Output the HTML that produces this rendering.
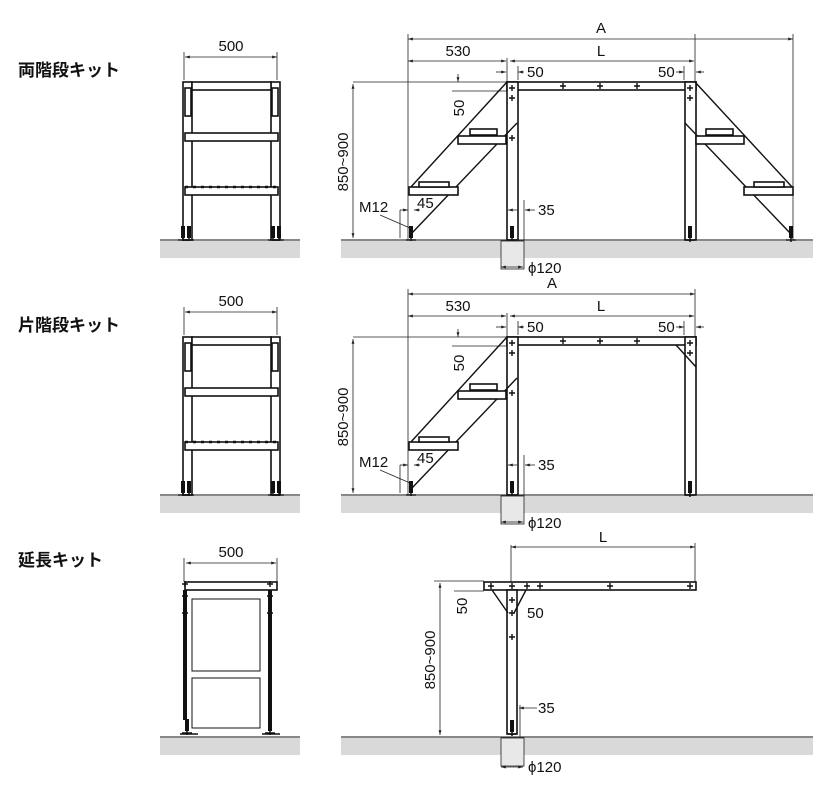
<!DOCTYPE html>
<html><head><meta charset="utf-8"><style>
body{margin:0;background:#fff}
svg{display:block}
text{font-family:"Liberation Sans","Noto Sans CJK JP",sans-serif;fill:#111}
.t{font-size:15px}
.h{font-size:17px;font-weight:bold}
.d{stroke:#222;stroke-width:0.8;fill:none}
.k{stroke:#111;stroke-width:1.6;fill:#fff}
.kl{stroke:#111;stroke-width:1.4;fill:none}
.g{fill:#d9d9d9}
</style></head><body>
<svg width="830" height="800" viewBox="0 0 830 800">
<defs>
<marker id="a" viewBox="0 0 10 10" refX="10" refY="5" markerWidth="6" markerHeight="6" orient="auto-start-reverse"><path d="M0,2L10,5L0,8z" fill="#222"/></marker>
<g id="foot"><rect x="-2" y="-14" width="4" height="12" fill="#111"/><path d="M-5,0h10M0,-2v4" stroke="#111" stroke-width="1.5"/></g>
<path id="x" d="M-3,0h6M0,-3v6" stroke="#111" stroke-width="1.4"/>
<g id="side">
<line class="d" x1="185" y1="57" x2="277" y2="57" marker-start="url(#a)" marker-end="url(#a)"/>
<line class="d" x1="184" y1="52" x2="184" y2="80"/><line class="d" x1="277" y1="52" x2="277" y2="80"/>
<text class="t" x="231" y="51" text-anchor="middle">500</text>
<rect class="k" x="183" y="82" width="9" height="158"/>
<rect class="k" x="271" y="82" width="9" height="158"/>
<rect class="k" x="192" y="82" width="79" height="8"/>
<rect class="k" x="185" y="88" width="6" height="28"/><rect class="k" x="272" y="88" width="6" height="28"/>
<rect class="k" x="185" y="133" width="93" height="8"/>
<rect class="k" x="185" y="187" width="93" height="8"/>
<line x1="185" y1="187" x2="278" y2="187" stroke="#111" stroke-width="2.5" stroke-dasharray="3 5"/>
<use href="#foot" x="183" y="240"/><use href="#foot" x="189" y="240"/>
<use href="#foot" x="273" y="240"/><use href="#foot" x="279" y="240"/>
<line class="d" x1="408" y1="61" x2="506" y2="61" marker-start="url(#a)" marker-end="url(#a)"/>
<text class="t" x="458" y="56" text-anchor="middle">530</text>
<line class="d" x1="510" y1="61" x2="694" y2="61" marker-start="url(#a)" marker-end="url(#a)"/>
<text class="t" x="601" y="56" text-anchor="middle">L</text>
<line class="d" x1="507" y1="58" x2="507" y2="82"/><line class="d" x1="695" y1="34" x2="695" y2="82"/>
<line class="d" x1="496" y1="72" x2="506" y2="72" marker-end="url(#a)"/><line class="d" x1="524" y1="72" x2="518" y2="72" marker-end="url(#a)"/>
<line class="d" x1="518" y1="66" x2="518" y2="80"/>
<text class="t" x="527" y="77">50</text>
<line class="d" x1="676" y1="72" x2="684" y2="72" marker-end="url(#a)"/><line class="d" x1="704" y1="72" x2="696" y2="72" marker-end="url(#a)"/>
<line class="d" x1="684" y1="66" x2="684" y2="80"/>
<text class="t" x="658" y="77">50</text>
<line class="d" x1="353" y1="82" x2="507" y2="82"/>
<line class="d" x1="353" y1="84" x2="353" y2="238" marker-start="url(#a)" marker-end="url(#a)"/>
<text class="t" transform="translate(348,162) rotate(-90)" text-anchor="middle">850~900</text>
<line class="d" x1="452" y1="91" x2="507" y2="91"/>
<line class="d" x1="458" y1="74" x2="458" y2="82" marker-end="url(#a)"/>
<text class="t" transform="translate(464,108) rotate(-90)" text-anchor="middle">50</text>
<rect class="k" x="507" y="82" width="189" height="8"/>
<rect class="k" x="507" y="82" width="11" height="158"/>
<rect class="k" x="685" y="82" width="11" height="158"/>
<use href="#x" x="512" y="88"/><use href="#x" x="512" y="98"/><use href="#x" x="512" y="138"/>
<use href="#x" x="563" y="86"/><use href="#x" x="600" y="86"/><use href="#x" x="637" y="86"/>
<use href="#x" x="690" y="88"/><use href="#x" x="690" y="98"/>
<line class="kl" x1="507" y1="82" x2="410" y2="188"/>
<line class="kl" x1="517" y1="123" x2="412" y2="233"/>
<rect class="k" x="458" y="136" width="48" height="8"/>
<rect class="k" x="470" y="129" width="27" height="6"/>
<rect class="k" x="409" y="187" width="49" height="8"/>
<rect class="k" x="419" y="182" width="30" height="5"/>
<use href="#foot" x="411" y="240"/><use href="#foot" x="512" y="240"/>
<line class="d" x1="400" y1="210" x2="408" y2="210" marker-end="url(#a)"/><line class="d" x1="420" y1="210" x2="414" y2="210" marker-end="url(#a)"/>
<line class="d" x1="400" y1="210" x2="400" y2="238"/>
<text class="t" x="359" y="212">M12</text>
<line class="d" x1="380" y1="215" x2="410" y2="228"/>
<text class="t" x="417" y="208">45</text>
<line class="d" x1="508" y1="210" x2="518" y2="210" marker-start="url(#a)"/><line class="d" x1="535" y1="210" x2="525" y2="210" marker-end="url(#a)"/>
<line class="d" x1="524" y1="200" x2="524" y2="240"/>
<text class="t" x="538" y="215">35</text>
<line x1="341" y1="240" x2="813" y2="240" stroke="#111" stroke-width="1"/>
<rect class="g" x="341" y="241" width="472" height="17"/>
<rect x="501" y="241" width="23" height="28" fill="#e8e8e8" stroke="#222" stroke-width="0.8"/>
<line class="d" x1="501" y1="267" x2="523" y2="267" marker-start="url(#a)" marker-end="url(#a)"/>
<text class="t" x="528" y="273">ϕ120</text>
<line x1="160" y1="240" x2="300" y2="240" stroke="#111" stroke-width="1"/>
<rect class="g" x="160" y="241" width="140" height="17"/>
</g>
</defs>

<text class="h" x="18" y="76">両階段キット</text>
<use href="#side"/>
<line class="d" x1="408" y1="39" x2="793" y2="39" marker-start="url(#a)" marker-end="url(#a)"/>
<line class="d" x1="408" y1="34" x2="408" y2="240"/><line class="d" x1="793" y1="34" x2="793" y2="240"/>
<text class="t" x="601" y="33" text-anchor="middle">A</text>
<line class="kl" x1="695" y1="82" x2="793" y2="188"/>
<line class="kl" x1="685" y1="123" x2="790" y2="233"/>
<rect class="k" x="696" y="136" width="48" height="8"/>
<rect class="k" x="706" y="129" width="27" height="6"/>
<rect class="k" x="744" y="187" width="49" height="8"/>
<rect class="k" x="754" y="182" width="30" height="5"/>
<use href="#foot" x="690" y="240"/><use href="#foot" x="791" y="240"/>

<text class="h" x="18" y="331">片階段キット</text>
<g transform="translate(0,255)"><use href="#side"/>
<line class="d" x1="408" y1="39" x2="695" y2="39" marker-start="url(#a)" marker-end="url(#a)"/>
<line class="d" x1="408" y1="34" x2="408" y2="240"/>
<text class="t" x="552" y="33" text-anchor="middle">A</text>
<line class="kl" x1="676" y1="90" x2="696" y2="112"/>
<use href="#foot" x="690" y="240"/>
</g>

<text class="h" x="18" y="566">延長キット</text>
<line class="d" x1="186" y1="563" x2="276" y2="563" marker-start="url(#a)" marker-end="url(#a)"/>
<line class="d" x1="184" y1="558" x2="184" y2="582"/><line class="d" x1="277" y1="558" x2="277" y2="582"/>
<text class="t" x="231" y="557" text-anchor="middle">500</text>
<rect class="k" x="185" y="582" width="92" height="8"/>
<rect x="183" y="590" width="4" height="130" fill="#111"/>
<rect x="268" y="590" width="4" height="130" fill="#111"/>
<use href="#x" x="185" y="584"/><use href="#x" x="185" y="596"/><use href="#x" x="185" y="613"/>
<use href="#x" x="270" y="584"/><use href="#x" x="270" y="596"/><use href="#x" x="270" y="613"/>
<rect x="192" y="599" width="68" height="72" fill="none" stroke="#111" stroke-width="1"/>
<rect x="192" y="678" width="68" height="50" fill="none" stroke="#111" stroke-width="1"/>
<use href="#foot" x="187" y="733"/><use href="#foot" x="270" y="733"/>
<line x1="180" y1="734" x2="198" y2="734" stroke="#111" stroke-width="1.5"/>
<line x1="262" y1="734" x2="280" y2="734" stroke="#111" stroke-width="1.5"/>
<line x1="160" y1="737" x2="300" y2="737" stroke="#111"/>
<rect class="g" x="160" y="738" width="140" height="17"/>

<line class="d" x1="511" y1="547" x2="695" y2="547" marker-start="url(#a)" marker-end="url(#a)"/>
<text class="t" x="603" y="542" text-anchor="middle">L</text>
<line class="d" x1="511" y1="545" x2="511" y2="582"/><line class="d" x1="695" y1="543" x2="695" y2="582"/>
<rect class="k" x="484" y="582" width="212" height="8"/>
<rect class="k" x="507" y="590" width="10" height="144"/>
<use href="#x" x="491" y="586"/><use href="#x" x="512" y="586"/><use href="#x" x="527" y="586"/>
<use href="#x" x="540" y="586"/><use href="#x" x="610" y="586"/><use href="#x" x="690" y="586"/>
<use href="#x" x="512" y="600"/><use href="#x" x="512" y="613"/><use href="#x" x="512" y="637"/>
<path d="M492,590 L508,613 M526,590 L514,613" class="kl"/>
<line class="d" x1="434" y1="581" x2="484" y2="581"/>
<line class="d" x1="440" y1="583" x2="440" y2="735" marker-start="url(#a)" marker-end="url(#a)"/>
<text class="t" transform="translate(435,660) rotate(-90)" text-anchor="middle">850~900</text>
<line class="d" x1="454" y1="591" x2="484" y2="591"/>
<text class="t" transform="translate(467,606) rotate(-90)" text-anchor="middle">50</text>
<text class="t" x="527" y="618">50</text>
<text class="t" x="538" y="713">35</text>
<line class="d" x1="537" y1="708" x2="519" y2="708" marker-end="url(#a)"/>
<line class="d" x1="520" y1="705" x2="520" y2="737"/>
<use href="#foot" x="512" y="734"/>
<line x1="341" y1="737" x2="813" y2="737" stroke="#111"/>
<rect class="g" x="341" y="738" width="472" height="17"/>
<rect x="501" y="738" width="23" height="28" fill="#e8e8e8" stroke="#222" stroke-width="0.8"/>
<line class="d" x1="501" y1="767" x2="523" y2="767" marker-start="url(#a)" marker-end="url(#a)"/>
<text class="t" x="528" y="772">ϕ120</text>
</svg>
</body></html>
